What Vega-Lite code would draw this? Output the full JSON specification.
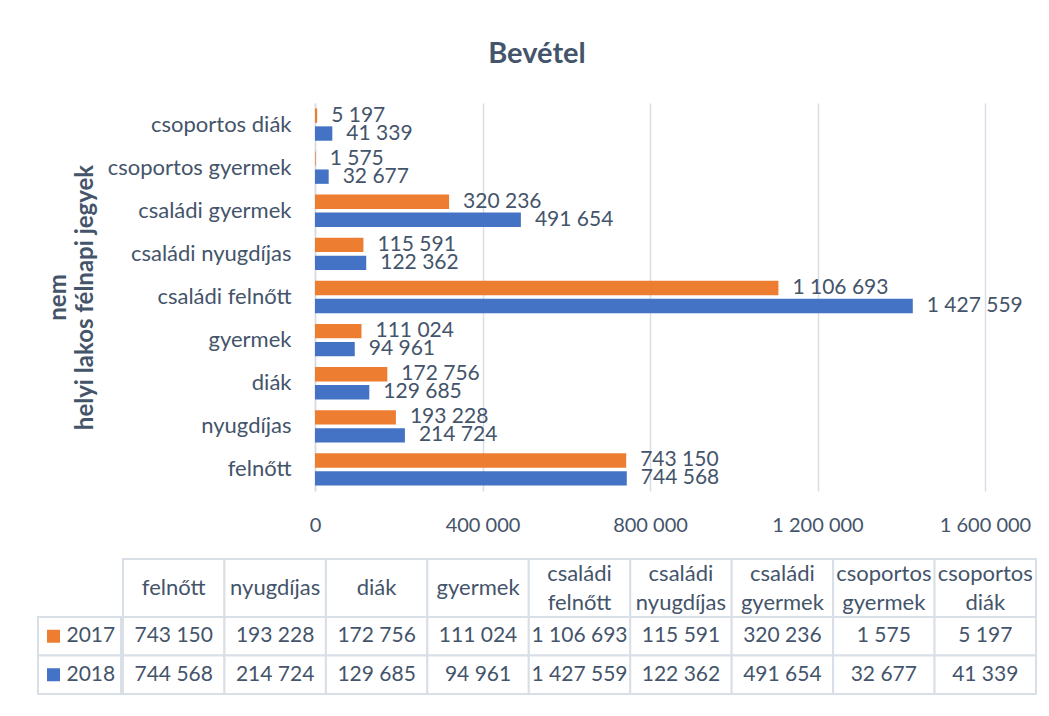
{
  "$schema": "https://vega.github.io/schema/vega-lite/v6.json",
  "background": "white",
  "padding": {"left": 37, "top": 40, "right": 10, "bottom": 10},
  "title": {"text": "Bevétel", "fontSize": 29, "font": "Lato", "fontWeight": "bold", "color": "#44546A", "anchor": "middle", "offset": 33},
  "datasets": {
    "bevetel": [
      {"kategoria": "felnőtt", "ev": "2017", "ertek": 743150},
      {"kategoria": "felnőtt", "ev": "2018", "ertek": 744568},
      {"kategoria": "nyugdíjas", "ev": "2017", "ertek": 193228},
      {"kategoria": "nyugdíjas", "ev": "2018", "ertek": 214724},
      {"kategoria": "diák", "ev": "2017", "ertek": 172756},
      {"kategoria": "diák", "ev": "2018", "ertek": 129685},
      {"kategoria": "gyermek", "ev": "2017", "ertek": 111024},
      {"kategoria": "gyermek", "ev": "2018", "ertek": 94961},
      {"kategoria": "családi felnőtt", "ev": "2017", "ertek": 1106693},
      {"kategoria": "családi felnőtt", "ev": "2018", "ertek": 1427559},
      {"kategoria": "családi nyugdíjas", "ev": "2017", "ertek": 115591},
      {"kategoria": "családi nyugdíjas", "ev": "2018", "ertek": 122362},
      {"kategoria": "családi gyermek", "ev": "2017", "ertek": 320236},
      {"kategoria": "családi gyermek", "ev": "2018", "ertek": 491654},
      {"kategoria": "csoportos gyermek", "ev": "2017", "ertek": 1575},
      {"kategoria": "csoportos gyermek", "ev": "2018", "ertek": 32677},
      {"kategoria": "csoportos diák", "ev": "2017", "ertek": 5197},
      {"kategoria": "csoportos diák", "ev": "2018", "ertek": 41339}
    ]
  },
  "spacing": 23,
  "vconcat": [
    {
      "spacing": 0,
      "hconcat": [
        {
          "width": 8, "height": 10,
          "data": {"values": [{"ures": ""}]},
          "mark": {"type": "text"},
          "encoding": {"text": {"field": "ures", "type": "nominal"}}
        },
        {
          "width": 670,
          "height": 388,
          "data": {"name": "bevetel"},
          "encoding": {
            "y": {
              "field": "kategoria", "type": "nominal",
              "sort": ["csoportos diák", "csoportos gyermek", "családi gyermek", "családi nyugdíjas", "családi felnőtt", "gyermek", "diák", "nyugdíjas", "felnőtt"],
              "scale": {"paddingInner": 0.25, "paddingOuter": 0.125},
              "axis": {
                "title": ["nem", "helyi lakos félnapi jegyek"],
                "titleFontSize": 24, "titleFont": "Lato", "titleFontWeight": "bold", "titleColor": "#44546A",
                "titleLineHeight": 27, "titlePadding": 18,
                "labelFontSize": 22, "labelFont": "Lato", "labelColor": "#44546A", "labelPadding": 24, "labelLimit": 300,
                "ticks": false, "domainColor": "#D6DCE4", "domainWidth": 1.5, "grid": false
              }
            },
            "yOffset": {"field": "ev", "type": "nominal", "sort": ["2017", "2018"], "scale": {"paddingInner": 0.2, "paddingOuter": 0}},
            "x": {
              "field": "ertek", "type": "quantitative",
              "scale": {"domain": [0, 1600000], "nice": false},
              "axis": {
                "values": [0, 400000, 800000, 1200000, 1600000], "format": ",d", "title": null,
                "grid": true, "gridColor": "#D9DEE6", "gridWidth": 1.5, "domain": false, "ticks": false,
                "labelPadding": 24, "labelFontSize": 20, "labelFont": "Lato", "labelColor": "#44546A", "labelFlush": false
              }
            }
          },
          "layer": [
            {
              "mark": {"type": "bar"},
              "encoding": {
                "color": {"field": "ev", "type": "nominal", "scale": {"domain": ["2017", "2018"], "range": ["#ED7D31", "#4472C4"]}, "legend": null}
              }
            },
            {
              "mark": {"type": "text", "align": "left", "baseline": "middle", "dx": 14, "fontSize": 21, "font": "Lato", "color": "#44546A"},
              "encoding": {"text": {"field": "ertek", "type": "quantitative", "format": ",d"}}
            }
          ]
        }
      ]
    },
    {
      "spacing": 0,
      "hconcat": [
        {
          "spacing": 0,
          "bounds": "flush",
          "vconcat": [
            {
              "width": 83, "height": 58,
              "data": {"values": [{"ures": ""}]},
              "mark": {"type": "text"},
              "encoding": {"text": {"field": "ures", "type": "nominal"}}
            },
            {
              "width": 83, "height": 77,
              "data": {"name": "bevetel"},
              "transform": [{"filter": "datum.kategoria === 'felnőtt'"}],
              "encoding": {
                "y": {"field": "ev", "type": "nominal", "sort": ["2017", "2018"], "scale": {"paddingInner": 0, "paddingOuter": 0}, "axis": null}
              },
              "layer": [
                {"mark": {"type": "rect", "fill": "white", "stroke": "#D9DFE7", "strokeWidth": 2}},
                {
                  "mark": {"type": "point", "shape": "square", "filled": true, "size": 169, "opacity": 1, "xOffset": -26},
                  "encoding": {"color": {"field": "ev", "type": "nominal", "scale": {"domain": ["2017", "2018"], "range": ["#ED7D31", "#4472C4"]}, "legend": null}}
                },
                {
                  "mark": {"type": "text", "align": "left", "baseline": "middle", "dx": -13, "fontSize": 21, "font": "Lato", "color": "#44546A"},
                  "encoding": {"text": {"field": "ev", "type": "nominal"}}
                }
              ]
            }
          ]
        },
        {
          "spacing": 0,
          "bounds": "flush",
          "vconcat": [
            {
              "width": 913, "height": 58,
              "data": {"name": "bevetel"},
              "transform": [{"filter": "datum.ev === '2017'"}],
              "encoding": {
                "x": {
                  "field": "kategoria", "type": "nominal",
                  "sort": ["felnőtt", "nyugdíjas", "diák", "gyermek", "családi felnőtt", "családi nyugdíjas", "családi gyermek", "csoportos gyermek", "csoportos diák"],
                  "scale": {"paddingInner": 0, "paddingOuter": 0}, "axis": null
                }
              },
              "layer": [
                {"mark": {"type": "rect", "fill": "white", "stroke": "#D9DFE7", "strokeWidth": 2}},
                {
                  "transform": [{"filter": "indexof(datum.kategoria, ' ') < 0"}],
                  "mark": {"type": "text", "fontSize": 22, "font": "Lato", "color": "#44546A", "baseline": "middle", "align": "center"},
                  "encoding": {"text": {"field": "kategoria", "type": "nominal"}}
                },
                {
                  "transform": [{"filter": "indexof(datum.kategoria, ' ') >= 0"}],
                  "mark": {"type": "text", "lineBreak": " ", "lineHeight": 29, "dy": -14.5, "fontSize": 22, "font": "Lato", "color": "#44546A", "baseline": "middle", "align": "center"},
                  "encoding": {"text": {"field": "kategoria", "type": "nominal"}}
                }
              ]
            },
            {
              "width": 913, "height": 77,
              "data": {"name": "bevetel"},
              "encoding": {
                "x": {
                  "field": "kategoria", "type": "nominal",
                  "sort": ["felnőtt", "nyugdíjas", "diák", "gyermek", "családi felnőtt", "családi nyugdíjas", "családi gyermek", "csoportos gyermek", "csoportos diák"],
                  "scale": {"paddingInner": 0, "paddingOuter": 0}, "axis": null
                },
                "y": {"field": "ev", "type": "nominal", "sort": ["2017", "2018"], "scale": {"paddingInner": 0, "paddingOuter": 0}, "axis": null}
              },
              "layer": [
                {"mark": {"type": "rect", "fill": "white", "stroke": "#D9DFE7", "strokeWidth": 2}},
                {
                  "mark": {"type": "text", "align": "center", "baseline": "middle", "fontSize": 21, "font": "Lato", "color": "#44546A"},
                  "encoding": {"text": {"field": "ertek", "type": "quantitative", "format": ",d"}}
                }
              ]
            }
          ]
        }
      ]
    }
  ],
  "config": {
    "locale": {"number": {"decimal": ",", "thousands": "\u00a0", "grouping": [3], "currency": ["", " Ft"]}},
    "view": {"stroke": null},
    "font": "Lato"
  }
}
